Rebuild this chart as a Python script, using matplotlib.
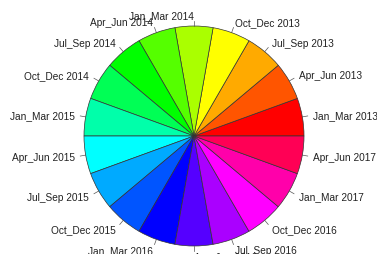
import numpy as np
import matplotlib
matplotlib.use("Agg")
import matplotlib.pyplot as plt

labels = ["Jan_Mar 2013", "Apr_Jun 2013", "Jul_Sep 2013", "Oct_Dec 2013",
          "Jan_Mar 2014", "Apr_Jun 2014", "Jul_Sep 2014", "Oct_Dec 2014",
          "Jan_Mar 2015", "Apr_Jun 2015", "Jul_Sep 2015", "Oct_Dec 2015",
          "Jan_Mar 2016", "Apr_Jun 2016", "Jul_Sep 2016", "Oct_Dec 2016",
          "Jan_Mar 2017", "Apr_Jun 2017"]
values = [1] * 18
colors = ["#FF0000", "#FF5500", "#FFAA00", "#FFFF00", "#AAFF00", "#55FF00",
          "#00FF00", "#00FF55", "#00FFAA", "#00FFFF", "#00AAFF", "#0055FF",
          "#0000FF", "#5500FF", "#AA00FF", "#FF00FF", "#FF00AA", "#FF0055"]

W, H = 377, 255
fig = plt.figure(figsize=(W / 100, H / 100), dpi=100)
ax = fig.add_axes([0, 0, 1, 1])
R = 110.0
cx, cy = 194.0, 255 - 137.0

wedges, _ = ax.pie(values, colors=colors, startangle=0, counterclock=True,
                   radius=1.0, wedgeprops=dict(edgecolor="#333333", linewidth=0.5))
for w, lab in zip(wedges, labels):
    mid = np.deg2rad((w.theta1 + w.theta2) / 2)
    c, s = np.cos(mid), np.sin(mid)
    ax.plot([c, 1.05 * c], [s, 1.05 * s], color="#555555", lw=0.5, clip_on=False)
    ax.text(1.1 * c, 1.1 * s, lab, ha="left" if c >= 0 else "right", va="center",
            fontsize=7.3, family="Liberation Sans", color="#222222")

ax.set_xlim(-cx / R, (W - cx) / R)
ax.set_ylim(-cy / R, (H - cy) / R)
ax.set_aspect("equal")
ax.axis("off")

fig.savefig("out.png", dpi=100)
